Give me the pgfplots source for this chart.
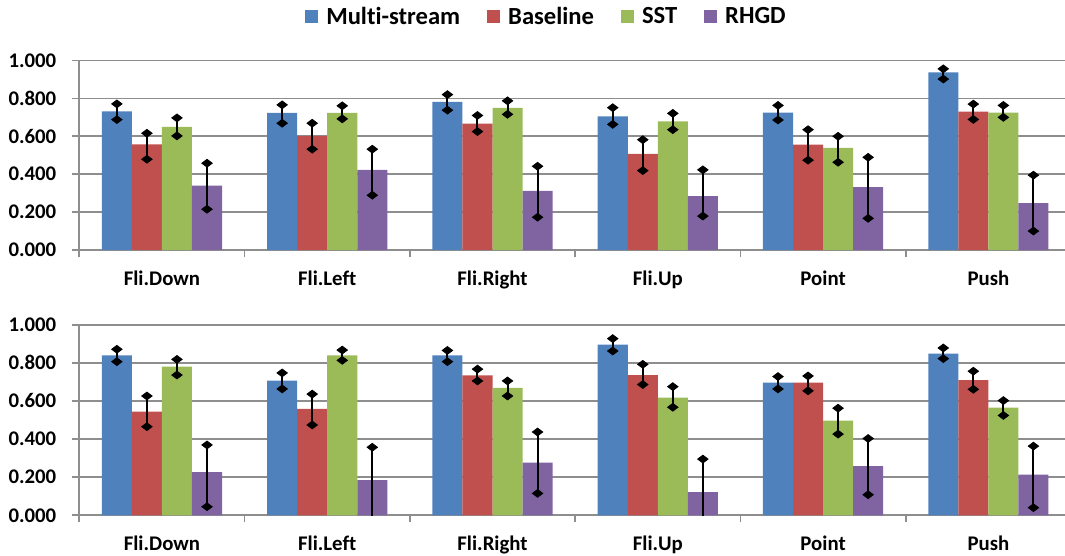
\documentclass[border=0pt]{standalone}
\usepackage{pgfplots}
\pgfplotsset{compat=1.18}
\usepackage{fontspec}
\setmainfont{Carlito}[Ligatures={NoCommon}]
\definecolor{cB}{HTML}{4F81BD}
\definecolor{cR}{HTML}{C0504D}
\definecolor{cG}{HTML}{9BBB59}
\definecolor{cP}{HTML}{8064A2}
\definecolor{axgray}{HTML}{8E8E8E}
\pgfplotsset{
  panel/.style={
    scale only axis, width=492.85pt,
    xmin=-0.5, xmax=5.4637, ymin=0, ymax=1,
    axis x line*=bottom, axis y line*=left,
    axis line style={draw=axgray, line width=0.9pt, -},
    ytick={0,0.2,0.4,0.6,0.8,1},
    ymajorgrids, grid style={draw=axgray, line width=0.9pt},
    tick align=outside, major tick length=3.5pt,
    tick style={draw=axgray, line width=0.9pt},
    xtick={-0.5,0.5,1.5,2.5,3.5,4.5}, xticklabels={},
    extra x ticks={0,1,2,3,4,5},
    extra x tick labels={Fli.Down,Fli.Left,Fli.Right,Fli.Up,Point,Push},
    extra x tick style={major tick length=0pt, xticklabel style={yshift=-7pt}},
    ticklabel style={font=\fontsize{10.4}{12}\selectfont\bfseries},
    yticklabel style={/pgf/number format/.cd, fixed, fixed zerofill, precision=3, assume math mode=true, /tikz/.cd, xshift=-4.5pt},
    ybar, bar width=0.1818,
  },
  ebars/.style={
    error bars/y dir=both, error bars/y explicit,
    error bars/error mark=diamond*,
    error bars/error mark options={mark size=2.6pt, black, fill=black},
    error bars/error bar style={black, line width=1pt},
  },
  sB/.style={fill=cB, draw=none, bar shift=-0.2727, ebars},
  sR/.style={fill=cR, draw=none, bar shift=-0.0909, ebars},
  sG/.style={fill=cG, draw=none, bar shift=0.0909, ebars},
  sP/.style={fill=cP, draw=none, bar shift=0.2727, ebars},
}
\begin{document}
\begin{tikzpicture}
\begin{axis}[panel, at={(39.65pt,-125pt)}, anchor=south west, height=94.75pt,
  legend columns=4,
  legend style={at={(0.475,1.2296)}, anchor=center, draw=none, fill=none,
    font=\fontsize{12.3}{14}\selectfont\bfseries,
    /tikz/every odd column/.append style={column sep=2pt},
    /tikz/every even column/.append style={column sep=11.5pt}},
  legend image code/.code={\draw[#1,draw=none] (0pt,-3.25pt) rectangle (6.5pt,3.25pt);},
]
\addplot[sB] coordinates {
 (0,0.732) += (0,0.039) -= (0,0.044)
 (1,0.724) += (0,0.042) -= (0,0.055)
 (2,0.782) += (0,0.038) -= (0,0.044)
 (3,0.705) += (0,0.046) -= (0,0.042)
 (4,0.725) += (0,0.038) -= (0,0.039)
 (5,0.937) += (0,0.019) -= (0,0.035)
};
\addplot[sR] coordinates {
 (0,0.558) += (0,0.058) -= (0,0.079)
 (1,0.602) += (0,0.067) -= (0,0.070)
 (2,0.667) += (0,0.043) -= (0,0.042)
 (3,0.507) += (0,0.075) -= (0,0.088)
 (4,0.556) += (0,0.079) -= (0,0.082)
 (5,0.730) += (0,0.040) -= (0,0.041)
};
\addplot[sG] coordinates {
 (0,0.650) += (0,0.047) -= (0,0.048)
 (1,0.724) += (0,0.037) -= (0,0.032)
 (2,0.750) += (0,0.037) -= (0,0.034)
 (3,0.679) += (0,0.042) -= (0,0.044)
 (4,0.539) += (0,0.061) -= (0,0.076)
 (5,0.725) += (0,0.038) -= (0,0.025)
};
\addplot[sP] coordinates {
 (0,0.340) += (0,0.118) -= (0,0.125)
 (1,0.423) += (0,0.109) -= (0,0.134)
 (2,0.312) += (0,0.130) -= (0,0.139)
 (3,0.284) += (0,0.139) -= (0,0.105)
 (4,0.332) += (0,0.157) -= (0,0.165)
 (5,0.247) += (0,0.148) -= (0,0.147)
};
\legend{Multi-stream,Baseline,SST,RHGD}
\end{axis}
\begin{axis}[panel, at={(39.65pt,-257.65pt)}, anchor=south west, height=95.3pt]
\addplot[sB] coordinates {
 (0,0.839) += (0,0.032) -= (0,0.033)
 (1,0.706) += (0,0.041) -= (0,0.043)
 (2,0.839) += (0,0.026) -= (0,0.033)
 (3,0.895) += (0,0.032) -= (0,0.033)
 (4,0.696) += (0,0.032) -= (0,0.033)
 (5,0.848) += (0,0.030) -= (0,0.026)
};
\addplot[sR] coordinates {
 (0,0.544) += (0,0.082) -= (0,0.079)
 (1,0.558) += (0,0.078) -= (0,0.084)
 (2,0.734) += (0,0.033) -= (0,0.029)
 (3,0.736) += (0,0.056) -= (0,0.050)
 (4,0.696) += (0,0.035) -= (0,0.043)
 (5,0.709) += (0,0.047) -= (0,0.048)
};
\addplot[sG] coordinates {
 (0,0.780) += (0,0.038) -= (0,0.044)
 (1,0.839) += (0,0.028) -= (0,0.026)
 (2,0.668) += (0,0.037) -= (0,0.042)
 (3,0.618) += (0,0.057) -= (0,0.051)
 (4,0.497) += (0,0.065) -= (0,0.071)
 (5,0.565) += (0,0.037) -= (0,0.041)
};
\addplot[sP] coordinates {
 (0,0.227) += (0,0.142) -= (0,0.182)
 (1,0.184) += (0,0.173) -= (0,0.250)
 (2,0.276) += (0,0.161) -= (0,0.161)
 (3,0.122) += (0,0.173) -= (0,0.200)
 (4,0.258) += (0,0.145) -= (0,0.150)
 (5,0.213) += (0,0.150) -= (0,0.173)
};
\end{axis}
\pgfresetboundingbox
\path[use as bounding box] (0,0) rectangle (532.5pt,-278pt);
\end{tikzpicture}
\end{document}
